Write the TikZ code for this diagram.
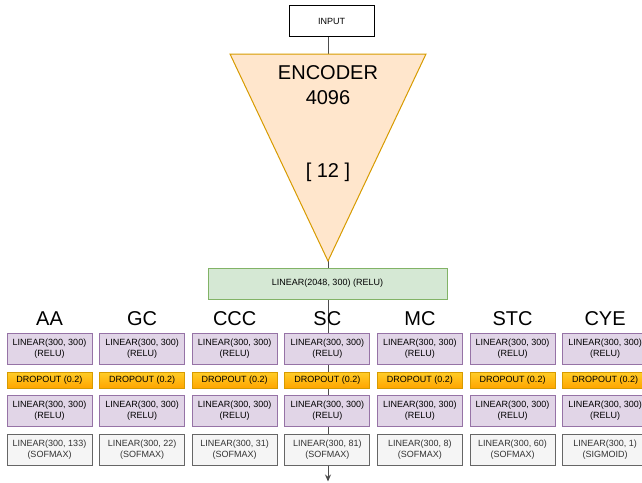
\documentclass[tikz,border=0pt]{standalone}
\usepackage{fontspec}
\setmainfont{Liberation Sans}
\usetikzlibrary{arrows.meta,backgrounds}

\definecolor{purpfill}{HTML}{E1D5E7}
\definecolor{purpline}{HTML}{9673A6}
\definecolor{greenfill}{HTML}{D5E8D4}
\definecolor{greenline}{HTML}{82B366}
\definecolor{encfill}{HTML}{FFE6CC}
\definecolor{encline}{HTML}{D79B00}
\definecolor{droptop}{HTML}{FFCD28}
\definecolor{dropbot}{HTML}{FFA500}
\definecolor{greyfill}{HTML}{F5F5F5}
\definecolor{greyline}{HTML}{666666}
\definecolor{greytext}{HTML}{333333}
\definecolor{spinecol}{HTML}{4D4D4D}

\tikzset{
  layerbox/.style={rectangle, inner sep=0pt, minimum width=85pt, align=center,
    line width=1pt, font=\fontsize{9}{11}\selectfont},
  linbox/.style={layerbox, minimum height=31pt, fill=purpfill, draw=purpline},
  dropbox/.style={layerbox, minimum height=16pt, top color=droptop,
    bottom color=dropbot, draw=encline},
  outbox/.style={layerbox, minimum height=31pt, fill=greyfill, draw=greyline,
    text=greytext},
  headlabel/.style={font=\fontsize{20}{24}\selectfont, inner sep=0pt},
  spine/.style={draw=spinecol, line width=1pt},
}

\begin{document}
\begin{tikzpicture}[x=1pt, y=-1pt]
\useasboundingbox (0,0) rectangle (642,482);

% input box
\node[rectangle, draw=black, line width=1pt, fill=white, minimum width=85pt,
  minimum height=31pt, inner sep=0pt, font=\fontsize{9}{11}\selectfont]
  (input) at (331.5,21) {INPUT};

% encoder triangle
\coordinate (tl) at (230,54);
\coordinate (tr) at (426,54);
\coordinate (apex) at (328,261);
\draw[fill=encfill, draw=encline, line width=1pt, line join=miter] (tl) -- (tr) -- (apex) -- cycle;
\node[headlabel, align=center, font=\fontsize{20}{25}\selectfont] (enc) at (328,85) {ENCODER\\4096};
\node[headlabel] (code) at (328,172) {[ 12 ]};

% shared projection
\node[rectangle, inner sep=0pt, minimum width=239pt, minimum height=31pt,
  fill=greenfill, draw=greenline, line width=1pt,
  font=\fontsize{9}{11}\selectfont] (shared) at (327.5,283.5) {LINEAR(2048, 300) (RELU)};

\coordinate (end) at (328,481.5);

% task heads
\foreach \i/\name/\nout/\act in {
  0/AA/133/SOFMAX, 1/GC/22/SOFMAX, 2/CCC/31/SOFMAX, 3/SC/81/SOFMAX,
  4/MC/8/SOFMAX, 5/STC/60/SOFMAX, 6/CYE/1/SIGMOID} {
  \pgfmathsetmacro{\cx}{49.5+92.6*\i}
  \node[headlabel] (t\i) at (\cx,319) {\name};
  \node[linbox] (a\i) at (\cx,348.5) {LINEAR(300, 300)\\(RELU)};
  \node[dropbox] (d\i) at (\cx,380) {DROPOUT (0.2)};
  \node[linbox] (b\i) at (\cx,411) {LINEAR(300, 300)\\(RELU)};
  \node[outbox] (o\i) at (\cx,449.5) {LINEAR(300, \nout)\\(\act)};
}

% central data path, behind the blocks
\begin{scope}[on background layer]
  \draw[spine] (input.south -| apex) -- (apex);
  \draw[spine, -{Stealth[length=7pt,width=6pt]}] (apex) -- (end);
\end{scope}
\end{tikzpicture}
\end{document}
